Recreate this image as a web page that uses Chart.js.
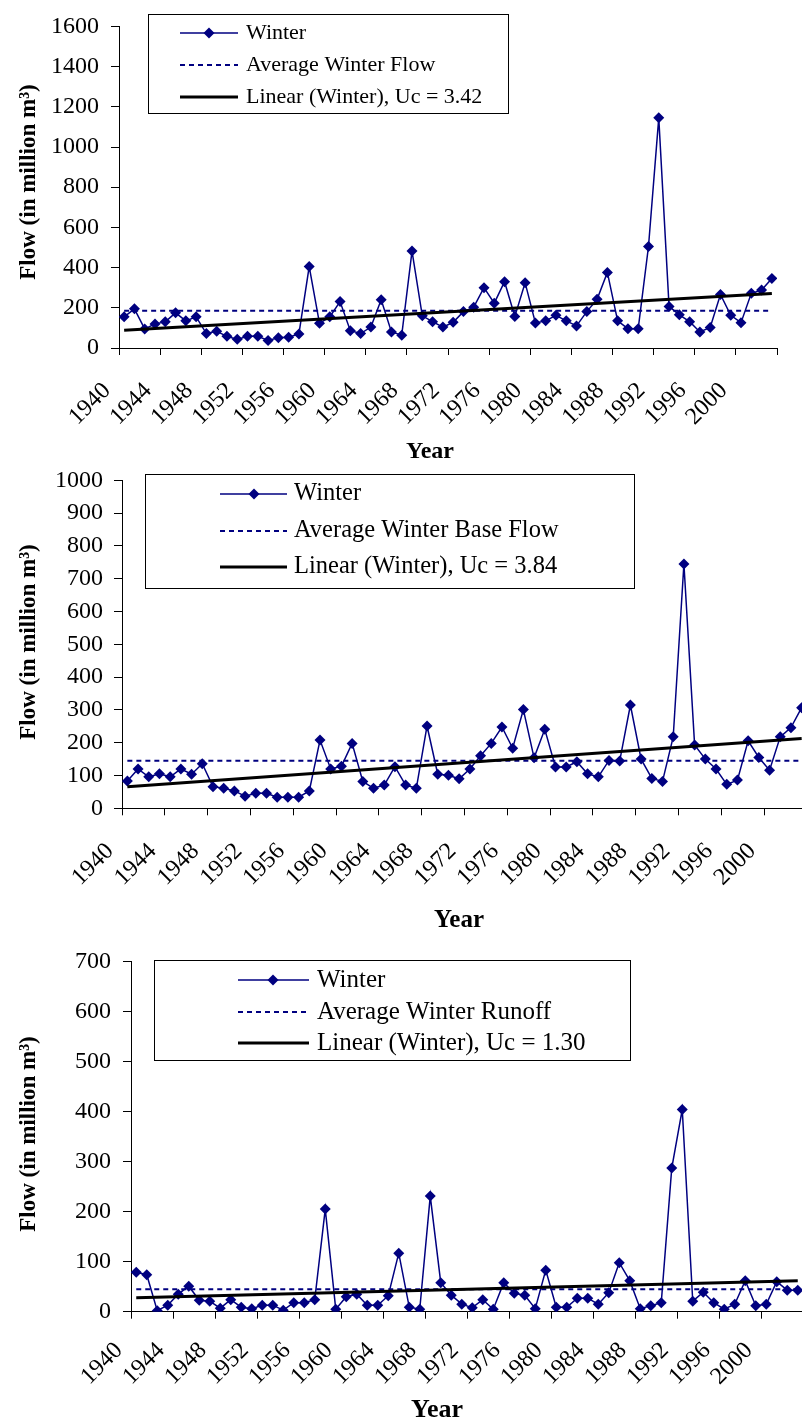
<!DOCTYPE html>
<html>
<head>
<meta charset="utf-8">
<script src="https://cdn.jsdelivr.net/npm/chart.js@4.4.1/dist/chart.umd.min.js"></script>
<style>
html, body { margin: 0; padding: 0; background: #ffffff; overflow: hidden; width: 802px; height: 1422px; }
#wrap { position: relative; width: 802px; height: 1422px; overflow: hidden; background: #ffffff; }
canvas { position: absolute; left: 0; }
</style>
</head>
<body>
<div id="wrap">
  <canvas id="c1"></canvas>
  <canvas id="c2"></canvas>
  <canvas id="c3"></canvas>
</div>
<script>
// ---------------- DATA ----------------
const years = [1940, 1941, 1942, 1943, 1944, 1945, 1946, 1947, 1948, 1949,
               1950, 1951, 1952, 1953, 1954, 1955, 1956, 1957, 1958, 1959,
               1960, 1961, 1962, 1963, 1964, 1965, 1966, 1967, 1968, 1969,
               1970, 1971, 1972, 1973, 1974, 1975, 1976, 1977, 1978, 1979,
               1980, 1981, 1982, 1983, 1984, 1985, 1986, 1987, 1988, 1989,
               1990, 1991, 1992, 1993, 1994, 1995, 1996, 1997, 1998, 1999,
               2000, 2001, 2002, 2003];

const xTickLabels = ['1940', '1944', '1948', '1952', '1956', '1960', '1964', '1968',
                     '1972', '1976', '1980', '1984', '1988', '1992', '1996', '2000'];

// Panel 1: winter flow (million m3)
const winterFlow = [155, 195, 95, 120, 130, 175, 135, 155, 72, 83,
                    58, 43, 58, 58, 37, 51, 54, 70, 405, 123,
                    155, 231, 86, 72, 104, 240, 80, 64, 482, 160,
                    131, 104, 128, 181, 203, 300, 223, 330, 157, 325,
                    125, 135, 163, 135, 110, 181, 242, 376, 135, 96,
                    96, 505, 1145, 207, 165, 131, 80, 102, 266, 163,
                    126, 272, 288, 346];
const avgWinterFlow = 185;
const trendWinterFlow = [88, 271];          // trend value at first and last year
const yTicksFlow = { max: 1600, step: 200 };
const legendFlow = ['Winter', 'Average Winter Flow', 'Linear (Winter), Uc = 3.42'];

// Panel 2: winter base flow
const winterBaseFlow = [83, 120, 96, 105, 96, 120, 104, 136, 66, 61,
                        53, 37, 46, 46, 34, 34, 34, 53, 208, 120,
                        128, 198, 82, 61, 71, 127, 71, 61, 251, 104,
                        101, 90, 120, 160, 198, 248, 183, 301, 154, 241,
                        126, 126, 142, 105, 96, 146, 144, 315, 150, 91,
                        82, 218, 745, 193, 150, 120, 73, 86, 206, 155,
                        116, 218, 246, 307];
const avgWinterBaseFlow = 145;
const trendWinterBaseFlow = [66, 213];
const yTicksBase = { max: 1000, step: 100 };
const legendBase = ['Winter', 'Average Winter Base Flow', 'Linear (Winter), Uc = 3.84'];

// Panel 3: winter runoff
const winterRunoff = [79, 74, 2, 13, 35, 51, 23, 21, 7, 24,
                      9, 6, 13, 13, 3, 18, 18, 24, 205, 5,
                      30, 35, 13, 13, 32, 117, 9, 5, 231, 58,
                      33, 15, 8, 24, 5, 58, 37, 33, 6, 83,
                      9, 9, 27, 27, 15, 38, 98, 62, 6, 12,
                      18, 287, 404, 21, 39, 18, 5, 15, 62, 12,
                      15, 60, 43, 43];
const avgWinterRunoff = 45;
const trendWinterRunoff = [28, 62];
const yTicksRunoff = { max: 700, step: 100 };
const legendRunoff = ['Winter', 'Average Winter Runoff', 'Linear (Winter), Uc = 1.30'];

const yAxisTitle = 'Flow (in million m\u00B3)';
const xAxisTitle = 'Year';

// ---------------- STYLE ----------------
const SERIF = '"Liberation Serif", "Times New Roman", Times, serif';
const NAVY = '#000080';
const CANVAS_W = 860;

const xMin = years[0] - 0.5;
const xMax = years[years.length - 1] + 0.5;
const xTickValues = xTickLabels.map(s => Number(s) - 0.5).concat([xMax]);

const decorPlugin = {
  id: 'decor',
  afterDraw(chart, args, o) {
    const ctx = chart.ctx;
    ctx.save();
    // legend box
    const b = o.box;
    ctx.fillStyle = '#ffffff';
    ctx.fillRect(b.x, b.y, b.w, b.h);
    ctx.strokeStyle = '#000000';
    ctx.lineWidth = 1;
    ctx.setLineDash([]);
    ctx.strokeRect(b.x + 0.5, b.y + 0.5, b.w, b.h);
    const r = o.rows;
    const seg = (y) => { ctx.beginPath(); ctx.moveTo(o.sx1, y); ctx.lineTo(o.sx2, y); ctx.stroke(); };
    // Winter sample
    ctx.strokeStyle = NAVY; ctx.lineWidth = 1.5;
    seg(r[0]);
    ctx.fillStyle = NAVY;
    ctx.beginPath();
    ctx.moveTo(o.sm - 5.5, r[0]); ctx.lineTo(o.sm, r[0] - 5.5);
    ctx.lineTo(o.sm + 5.5, r[0]); ctx.lineTo(o.sm, r[0] + 5.5);
    ctx.closePath(); ctx.fill();
    // Average sample
    ctx.setLineDash([5, 4]); ctx.lineWidth = 2;
    seg(r[1]);
    // Trend sample
    ctx.setLineDash([]); ctx.strokeStyle = '#000000'; ctx.lineWidth = 3;
    seg(r[2]);
    // legend text
    ctx.fillStyle = '#000000';
    ctx.font = o.fs + 'px ' + SERIF;
    ctx.textAlign = 'left';
    ctx.textBaseline = 'middle';
    o.labels.forEach((t, i) => ctx.fillText(t, o.tx, r[i]));
    // x axis title
    ctx.font = 'bold ' + o.xt.fs + 'px ' + SERIF;
    ctx.textAlign = 'center';
    ctx.fillText(xAxisTitle, o.xt.x, o.xt.y);
    // y axis title
    ctx.font = 'bold ' + o.yt.fs + 'px ' + SERIF;
    ctx.translate(o.yt.x, o.yt.y);
    ctx.rotate(-Math.PI / 2);
    ctx.fillText(yAxisTitle, 0, 0);
    ctx.restore();
  }
};

function makePanel(id, p) {
  const cv = document.getElementById(id);
  cv.width = CANVAS_W; cv.height = p.H;
  cv.style.width = CANVAS_W + 'px'; cv.style.height = p.H + 'px';
  cv.style.top = p.top + 'px';
  const first = years[0], last = years[years.length - 1];
  new Chart(cv, {
    type: 'line',
    data: {
      datasets: [
        {
          label: p.legend[2],
          data: [{ x: first, y: p.trend[0] }, { x: last, y: p.trend[1] }],
          borderColor: '#000000', borderWidth: 3, pointRadius: 0, order: 0
        },
        {
          label: p.legend[0],
          data: years.map((yr, i) => ({ x: yr, y: p.values[i] })),
          borderColor: NAVY, borderWidth: 1.5,
          pointStyle: 'rectRot', pointRadius: 5.5,
          pointBackgroundColor: NAVY, pointBorderColor: NAVY, pointBorderWidth: 0,
          order: 1
        },
        {
          label: p.legend[1],
          data: [{ x: first, y: p.avg }, { x: last, y: p.avg }],
          borderColor: NAVY, borderWidth: 2, borderDash: [5, 4], pointRadius: 0, order: 2
        }
      ]
    },
    options: {
      responsive: false,
      animation: false,
      devicePixelRatio: 1,
      parsing: true,
      layout: { padding: { left: 0, top: p.T, right: CANVAS_W - p.R, bottom: 0 } },
      plugins: {
        legend: { display: false },
        tooltip: { enabled: false },
        decor: p.decor
      },
      scales: {
        x: {
          type: 'linear',
          min: xMin, max: xMax,
          afterBuildTicks: (s) => { s.ticks = xTickValues.map(v => ({ value: v })); },
          afterFit: (s) => { s.height = p.H - p.B; },
          grid: { display: true, drawOnChartArea: false, drawTicks: true, tickLength: 7, color: '#000000', lineWidth: 1 },
          border: { display: true, color: '#000000', width: 1 },
          ticks: {
            autoSkip: false, maxRotation: 45, minRotation: 45,
            padding: p.xPad, labelOffset: -12,
            color: '#000000', font: { family: SERIF, size: 24 },
            callback: (v, i) => (i < xTickLabels.length ? xTickLabels[i] : '')
          }
        },
        y: {
          type: 'linear',
          min: 0, max: p.yTicks.max,
          afterFit: (s) => { s.width = p.L; },
          grid: { display: true, drawOnChartArea: false, drawTicks: true, tickLength: 8, color: '#000000', lineWidth: 1 },
          border: { display: true, color: '#000000', width: 1 },
          ticks: {
            stepSize: p.yTicks.step, padding: p.yPad,
            color: '#000000', font: { family: SERIF, size: 24 },
            callback: (v) => String(v)
          }
        }
      }
    },
    plugins: [decorPlugin]
  });
}

makePanel('c1', {
  top: 0, H: 470, L: 119, R: 777, T: 15, B: 348,
  values: winterFlow, avg: avgWinterFlow, trend: trendWinterFlow,
  yTicks: yTicksFlow, legend: legendFlow, xPad: 22, yPad: 12,
  decor: {
    box: { x: 148, y: 14, w: 360, h: 99 },
    rows: [33, 65, 97], sx1: 180, sx2: 238, sm: 209, tx: 246, fs: 22,
    labels: legendFlow,
    yt: { x: 29, y: 182, fs: 23 },
    xt: { x: 430, y: 452, fs: 24 }
  }
});

makePanel('c2', {
  top: 455, H: 485, L: 122, R: 807, T: 21.5, B: 353.3,
  values: winterBaseFlow, avg: avgWinterBaseFlow, trend: trendWinterBaseFlow,
  yTicks: yTicksBase, legend: legendBase, xPad: 22, yPad: 11,
  decor: {
    box: { x: 145, y: 19, w: 489, h: 114 },
    rows: [39, 76, 112], sx1: 220, sx2: 287, sm: 254, tx: 294, fs: 24.5,
    labels: legendBase,
    yt: { x: 29, y: 187, fs: 23 },
    xt: { x: 459, y: 466, fs: 25 }
  }
});

makePanel('c3', {
  top: 935, H: 487, L: 131, R: 803, T: 21, B: 376.7,
  values: winterRunoff, avg: avgWinterRunoff, trend: trendWinterRunoff,
  yTicks: yTicksRunoff, legend: legendRunoff, xPad: 18, yPad: 12,
  decor: {
    box: { x: 154, y: 25, w: 476, h: 100 },
    rows: [45, 77, 108], sx1: 238, sx2: 309, sm: 273, tx: 317, fs: 25,
    labels: legendRunoff,
    yt: { x: 29, y: 199, fs: 23 },
    xt: { x: 437, y: 475, fs: 26 }
  }
});
</script>
</body>
</html>
